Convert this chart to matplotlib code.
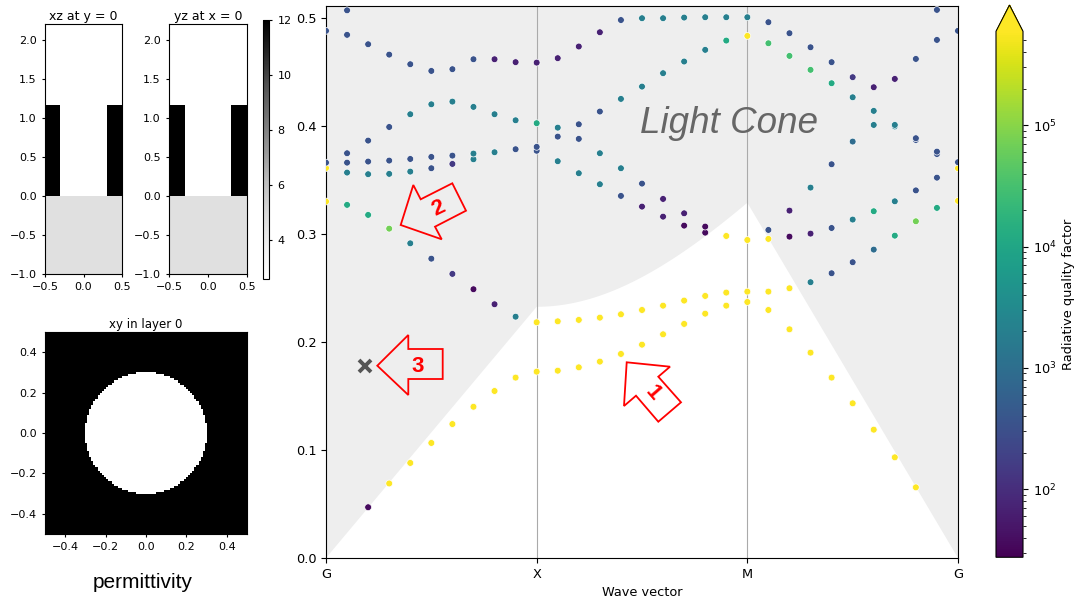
import numpy as np
import matplotlib
matplotlib.use("Agg")
import matplotlib.pyplot as plt
from matplotlib.colors import LogNorm
from matplotlib.patches import Polygon
from matplotlib.transforms import Affine2D

N = np.nan
# Q levels (Y = bound mode, beyond the colour range)
DP, P, PB, B, BT, T, GT, G, LG, Y = 35, 70, 150, 350, 900, 2000, 1.2e4, 3e4, 7e4, 1e7

# --- structure (permittivity) ---
eps_slab, eps_hole, eps_sub, eps_air = 12.0, 1.0, 4.6, 1.0
hole_r = 0.3
slab_top = 1.17
n_sub = 2.15   # substrate index used for the light line

# --- band structure: k path G-X-M-G, 10 steps per segment ---
k_ticks = [0, 1, 2, 3]
k_labels = ['G', 'X', 'M', 'G']

band1_f = [N, N, 0.047, 0.069, 0.088, 0.1065, 0.124, 0.140, 0.1546, 0.167, 0.1725,
           0.1734, 0.1765, 0.1818, 0.1889, 0.1975, 0.2071, 0.2167, 0.2262, 0.2336, 0.2370,
           0.2296, 0.2117, 0.1901, 0.1670, 0.1432, 0.1188, 0.0932, 0.0654, N, N]
band1_q = [N, N, DP, Y, Y, Y, Y, Y, Y, Y, Y,
           Y, Y, Y, Y, Y, Y, Y, Y, Y, Y,
           Y, Y, Y, Y, Y, Y, Y, Y, N, N]

band2_f = [0.330, 0.3269, 0.3176, 0.3049, 0.2913, 0.2771, 0.263, 0.2488, 0.2349, 0.2234, 0.2182,
           0.2191, 0.2204, 0.2225, 0.2256, 0.2296, 0.2336, 0.2383, 0.2426, 0.2457, 0.2466,
           0.2466, 0.2497, 0.2553, 0.2636, 0.2738, 0.2855, 0.2984, 0.3117, 0.3241, 0.3306]
band2_q = [Y, GT, GT, LG, T, B, PB, DP, P, T, Y,
           Y, Y, Y, Y, Y, Y, Y, Y, Y, Y,
           Y, Y, T, B, B, BT, GT, LG, GT, Y]

band3_f = [0.361, 0.3568, 0.3553, 0.3556, 0.3577, 0.3608, 0.3648, 0.3691, N, N, 0.377,
           0.3673, 0.3562, 0.346, 0.3352, 0.3253, 0.316, 0.3077, 0.3012, 0.2981, 0.2944,
           0.2954, 0.2975, 0.3003, 0.3055, 0.3133, 0.321, 0.3302, 0.3403, 0.3521, 0.3608]
band3_q = [Y, T, T, T, T, B, PB, T, N, N, B,
           T, T, T, B, P, P, DP, DP, Y, Y,
           Y, DP, P, B, T, GT, T, B, B, Y]

band4_f = [0.366, 0.366, 0.367, 0.3679, 0.3694, 0.3713, 0.3725, 0.3744, 0.3756, 0.3784, 0.3806,
           0.3901, 0.388, 0.3747, 0.3608, 0.3466, 0.3324, 0.3191, 0.3068, N, N,
           0.3037, 0.3216, 0.3429, 0.3645, 0.3855, 0.4009, 0.3995, 0.387, 0.374, 0.3664]
band4_q = [B, B, B, B, B, B, B, T, T, B, B,
           B, B, T, T, B, P, P, DP, N, N,
           B, P, T, B, BT, T, T, B, B, B]

band5_f = [N, 0.3747, 0.3864, 0.399, 0.4108, 0.42, 0.4225, 0.4176, 0.4108, 0.4052, 0.4025,
           0.3984, 0.4015, 0.4133, 0.425, 0.4364, 0.4488, 0.4596, 0.4704, 0.479, 0.4833,
           0.4765, 0.4648, 0.4519, 0.4395, 0.4265, 0.4139, 0.4009, 0.3886, 0.3762, N]
band5_q = [N, B, B, B, T, T, T, T, T, T, GT,
           T, B, B, T, T, T, T, T, GT, Y,
           G, G, G, GT, T, T, T, B, B, N]

band6_f = [0.488, 0.4843, 0.4756, 0.466, 0.4571, 0.4509, 0.4525, 0.4617, 0.4617, 0.459, 0.4586,
           0.4627, 0.4735, 0.4867, 0.498, 0.4997, 0.4997, 0.5003, 0.5006, 0.5006, 0.5006,
           0.496, 0.4858, 0.4728, 0.459, 0.4451, 0.4358, 0.4435, 0.462, 0.4796, 0.488]
band6_q = [B, B, B, B, B, B, B, B, P, P, P,
           P, P, P, B, T, T, T, T, T, T,
           B, B, B, B, PB, P, P, B, B, B]

band7_f = [N, 0.507] + [N] * 27 + [0.5074, N]
band7_q = [N, B] + [N] * 27 + [B, N]

bands_f = [band1_f, band2_f, band3_f, band4_f, band5_f, band6_f, band7_f]
bands_q = [band1_q, band2_q, band3_q, band4_q, band5_q, band6_q, band7_q]

q_min, q_max = 27.5, 5.95e5
f_top = 0.511

W, H = 1077, 600
fig = plt.figure(figsize=(W / 100, H / 100), dpi=100)
px = Affine2D().scale(1 / W, -1 / H).translate(0, 1) + fig.transFigure

# --- permittivity maps ---
nx = 100
xs = (np.arange(nx) + 0.5) / nx - 0.5
zs = np.arange(-1 + 0.01, 2.2, 0.02)
X, Z = np.meshgrid(xs, zs)
eps_xz = np.full(X.shape, eps_air)
eps_xz[Z < 0] = eps_sub
in_slab = (Z >= 0) & (Z < slab_top)
eps_xz[in_slab] = np.where(np.abs(X[in_slab]) < hole_r, eps_hole, eps_slab)

XX, YY = np.meshgrid(xs, xs)
eps_xy = np.where(XX**2 + YY**2 < hole_r**2, eps_hole, eps_slab)

eps_kw = dict(cmap='Greys', vmin=2.58, vmax=12, origin='lower', interpolation='nearest')
small = 8
ax_xz = fig.add_axes([45 / W, 1 - 274 / H, 77 / W, 250 / H])
im = ax_xz.imshow(eps_xz, extent=[-0.5, 0.5, -1, 2.2], aspect='auto', **eps_kw)
ax_xz.set_title('xz at y = 0', fontsize=9, pad=3)
ax_yz = fig.add_axes([169 / W, 1 - 274 / H, 78 / W, 250 / H])
ax_yz.imshow(eps_xz, extent=[-0.5, 0.5, -1, 2.2], aspect='auto', **eps_kw)
ax_yz.set_title('yz at x = 0', fontsize=9, pad=3)
for a in (ax_xz, ax_yz):
    a.set_xticks([-0.5, 0.0, 0.5])
    a.set_yticks([-1.0, -0.5, 0.0, 0.5, 1.0, 1.5, 2.0])
    a.tick_params(labelsize=small, length=2.5)
cax_eps = fig.add_axes([263 / W, 1 - 279 / H, 6 / W, 259 / H])
cb_eps = fig.colorbar(im, cax=cax_eps, ticks=[4, 6, 8, 10, 12])
cb_eps.ax.tick_params(labelsize=small, length=2.5)

ax_xy = fig.add_axes([45 / W, 1 - 534 / H, 202 / W, 202 / H])
ax_xy.imshow(eps_xy, extent=[-0.5, 0.5, -0.5, 0.5], aspect='auto', **eps_kw)
ax_xy.set_title('xy in layer 0', fontsize=8.5, pad=3)
ax_xy.set_xticks([-0.4, -0.2, 0.0, 0.2, 0.4])
ax_xy.set_yticks([-0.4, -0.2, 0.0, 0.2, 0.4])
ax_xy.tick_params(labelsize=small, length=2.5)
fig.text(143 / W, 1 - 582 / H, 'permittivity', ha='center', va='center',
         fontsize=15, family='Liberation Sans')

# --- band diagram ---
ax = fig.add_axes([326 / W, 1 - 558 / H, 632 / W, 552 / H])
k = np.linspace(0, 3, 31)

# light line along G-X-M-G
s = np.linspace(0, 3, 601)
kx = np.where(s <= 1, 0.5 * s, np.where(s <= 2, 0.5, 0.5 * (3 - s)))
ky = np.where(s <= 1, 0.0, np.where(s <= 2, 0.5 * (s - 1), 0.5 * (3 - s)))
light = np.hypot(kx, ky) / n_sub
ax.fill_between(s, light, 1.0, color='#eeeeee', lw=0, zorder=0)
for xv in (1, 2):
    ax.axvline(xv, color='#aaaaaa', lw=0.8, zorder=1)

norm = LogNorm(vmin=q_min, vmax=q_max)
for f, q in zip(bands_f, bands_q):
    f = np.array(f, dtype=float); q = np.array(q, dtype=float)
    ok = ~np.isnan(f)
    sc = ax.scatter(k[ok], f[ok], c=q[ok], cmap='viridis', norm=norm, s=24,
                    edgecolors='white', linewidths=0.5, zorder=3)

ax.set_xlim(0, 3)
ax.set_ylim(0, f_top)
ax.set_xticks(k_ticks)
ax.set_xticklabels(k_labels)
ax.set_yticks([0.0, 0.1, 0.2, 0.3, 0.4, 0.5])
ax.tick_params(labelsize=9.3)
ax.set_xlabel('Wave vector', fontsize=9.3, labelpad=4)
ax.text(1.49, 0.3935, 'Light Cone', fontsize=26.5, style='italic', color='#666666',
        family='Liberation Sans', va='baseline', zorder=4)
ax.plot(0.185, 0.178, marker='x', color='#555555', ms=8, mew=2.8, zorder=4)

cax = fig.add_axes([996 / W, 1 - 557.3 / H, 27 / W, 552.3 / H])
cb = fig.colorbar(sc, cax=cax, extend='max')
cb.set_label('Radiative quality factor', fontsize=9.3)
cb.ax.tick_params(labelsize=9.3)

# --- red callout arrows (pixel coordinates, y down) ---
arrow2 = [(400.7, 225), (413.3, 185), (420.7, 199.3), (452.3, 183.3),
          (466, 210.7), (435, 226.7), (441.7, 239.3)]
arrow3 = [(377.3, 365.7), (408.3, 335), (408.3, 349), (442.7, 349),
          (442.7, 379), (408.3, 379), (408.3, 395)]
arrow1 = [(626.7, 362.3), (670, 366.7), (658.3, 376.7), (681, 402.3),
          (658.3, 421.7), (636, 395.7), (624, 406)]
for pts in (arrow1, arrow2, arrow3):
    fig.add_artist(Polygon(pts, closed=True, fill=False, edgecolor='red',
                           lw=1.3, transform=px, zorder=10))
for (tx, ty, lab, rot) in [(438.3, 208.3, '2', 25.6), (417.3, 366.7, '3', 0),
                           (653.3, 393.3, '1', -49)]:
    fig.text(tx, ty, lab, transform=px, color='red', fontweight='bold', fontsize=16,
             rotation=rot, ha='center', va='center', family='Liberation Sans',
             rotation_mode='anchor', zorder=11)

fig.savefig('out.png', dpi=100)
